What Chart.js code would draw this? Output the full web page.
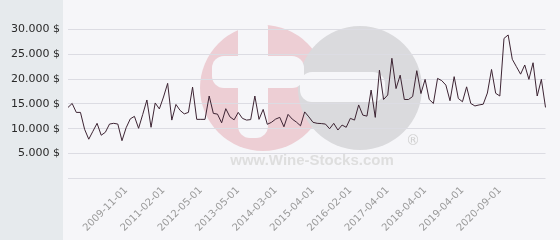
<!DOCTYPE html>
<html>
<head>
<meta charset="utf-8">
<script src="https://cdn.jsdelivr.net/npm/chart.js@4/dist/chart.umd.min.js"></script>
<style>
html,body{margin:0;padding:0;background:#f6f6f9;}
#wrap{width:560px;height:240px;position:relative;}
</style>
</head>
<body>
<div id="wrap"><canvas id="c" width="560" height="240"></canvas></div>
<script>
const dates = [
'2007-12-01','2008-02-01','2008-03-01','2008-05-01','2008-06-01','2008-08-01','2008-09-01','2008-11-01','2008-12-01','2009-02-01',
'2009-04-01','2009-05-01','2009-07-01','2009-09-01','2009-11-01','2009-12-01','2010-02-01','2010-04-01','2010-05-01','2010-07-01',
'2010-09-01','2010-10-01','2010-12-01','2011-02-01','2011-04-01','2011-05-01','2011-07-01','2011-09-01','2011-10-01','2011-12-01',
'2012-02-01','2012-03-01','2012-05-01','2012-06-01','2012-08-01','2012-09-01','2012-11-01','2012-12-01','2013-01-01','2013-03-01',
'2013-04-01','2013-05-01','2013-06-01','2013-07-01','2013-09-01','2013-10-01','2013-11-01','2013-12-01','2014-01-01','2014-02-01',
'2014-03-01','2014-05-01','2014-06-01','2014-08-01','2014-09-01','2014-10-01','2014-12-01','2015-01-01','2015-03-01','2015-04-01',
'2015-05-01','2015-06-01','2015-07-01','2015-09-01','2015-10-01','2015-11-01','2015-12-01','2016-01-01','2016-02-01','2016-04-01',
'2016-05-01','2016-07-01','2016-09-01','2016-10-01','2016-11-01','2017-01-01','2017-03-01','2017-04-01','2017-05-01','2017-07-01',
'2017-08-01','2017-09-01','2017-10-01','2017-12-01','2018-01-01','2018-02-01','2018-04-01','2018-05-01','2018-06-01','2018-08-01',
'2018-09-01','2018-10-01','2018-12-01','2019-01-01','2019-02-01','2019-04-01','2019-05-01','2019-07-01','2019-09-01','2019-11-01',
'2020-01-01','2020-03-01','2020-05-01','2020-07-01','2020-09-01','2020-10-01','2020-11-01','2020-12-01','2021-01-01','2021-02-01',
'2021-03-01','2021-04-01','2021-05-01','2021-06-01','2021-07-01','2021-08-01'
];
const prices = [
14300,15100,13300,13300,9900,7900,9500,11100,8700,9300,
10950,11100,10950,7600,10200,12000,12500,10100,12900,15800,
10300,15200,14000,16400,19150,11750,14900,13700,13000,13300,
18400,11900,11900,11900,16600,13100,12950,11200,14050,12400,
11800,13300,12100,11750,11850,16600,11900,13900,10900,11300,
11950,12300,10400,12900,11950,11350,10600,13400,12400,11300,
11100,11050,10950,10000,11100,9750,10750,10300,12100,11750,
14800,12750,12550,17800,12300,21800,15900,16800,24200,18100,
20800,15900,15900,16500,21700,17100,19950,15900,15100,20150,
19700,18800,15650,20500,16100,15450,18450,15100,14600,14800,
14950,17200,21950,17150,16600,28200,28900,24000,22500,21000,
22850,19950,23300,16600,19950,14300
];
const shownDates = ['2009-11-01','2011-02-01','2012-05-01','2013-05-01','2014-03-01','2015-04-01','2016-02-01','2017-04-01','2018-04-01','2019-04-01','2020-09-01'];
const yTicks = [0,5000,10000,15000,20000,25000,30000];

function fmt(v){ return String(v).replace(/\B(?=(\d{3})+(?!\d))/g,'.') + ' $'; }

const bgPlugin = {
  id:'bg',
  beforeDraw(chart){
    const ctx = chart.ctx;
    ctx.save();
    ctx.fillStyle = '#f6f6f9';
    ctx.fillRect(0,0,chart.width,chart.height);
    ctx.fillStyle = '#e6eaed';
    ctx.fillRect(0,0,63,chart.height);
    // watermark
    ctx.fillStyle = 'rgb(237,206,212)';
    ctx.beginPath(); ctx.arc(263,88,63,0,Math.PI*2); ctx.fill();
    ctx.fillStyle = 'rgb(218,218,221)';
    ctx.beginPath(); ctx.arc(360,88,62,0,Math.PI*2); ctx.fill();
    ctx.fillStyle = '#f6f6f9';
    function rr(x,y,w,h,r){ctx.beginPath();ctx.roundRect(x,y,w,h,r);ctx.fill();}
    rr(238,16,30,122,12);
    rr(212,56,92,32,12);
    rr(300,72,85,30,12);
    ctx.fillStyle = '#dedede';
    ctx.font = 'bold 15px "Liberation Sans", Arial, sans-serif';
    ctx.textAlign = 'center';
    ctx.textBaseline = 'middle';
    ctx.fillText('www.Wine-Stocks.com', 312, 161);
    ctx.fillStyle = '#d0d0d0';
    ctx.font = '14px "DejaVu Sans", sans-serif';
    ctx.fillText('\u00AE', 413, 141);
    ctx.restore();
  }
};

new Chart(document.getElementById('c'), {
  type:'line',
  data:{
    labels: dates,
    datasets:[{
      data: prices,
      borderColor:'#3d2433',
      borderWidth:1,
      pointRadius:0,
      tension:0,
      fill:false
    }]
  },
  options:{
    responsive:false,
    animation:false,
    devicePixelRatio:1,
    layout:{padding:{top:14,right:5,bottom:0,left:0}},
    plugins:{legend:{display:false},tooltip:{enabled:false}},
    scales:{
      x:{
        offset:false,
        grid:{display:false,drawTicks:false},
        border:{display:false},
        ticks:{
          autoSkip:false,
          maxRotation:45,minRotation:45,
          color:'#9a9a9a',
          font:{family:'"DejaVu Sans", sans-serif',size:10},
          padding:6,
          callback:function(v,i){ const l=this.getLabelForValue(v); return shownDates.includes(l)?l:''; }
        }
      },
      y:{
        min:0,max:33000,
        afterBuildTicks(scale){ scale.ticks = yTicks.map(v=>({value:v})); },
        afterFit(scale){ scale.width = 68; },
        grid:{color:'#dcdce3',drawTicks:false,lineWidth:1},
        border:{display:false},
        ticks:{
          color:'#2a2a2a',
          padding:8,
          font:{family:'"DejaVu Sans", sans-serif',size:11},
          callback:(v)=> v===0?'':fmt(v)
        }
      }
    }
  },
  plugins:[bgPlugin]
});
</script>
</body>
</html>
